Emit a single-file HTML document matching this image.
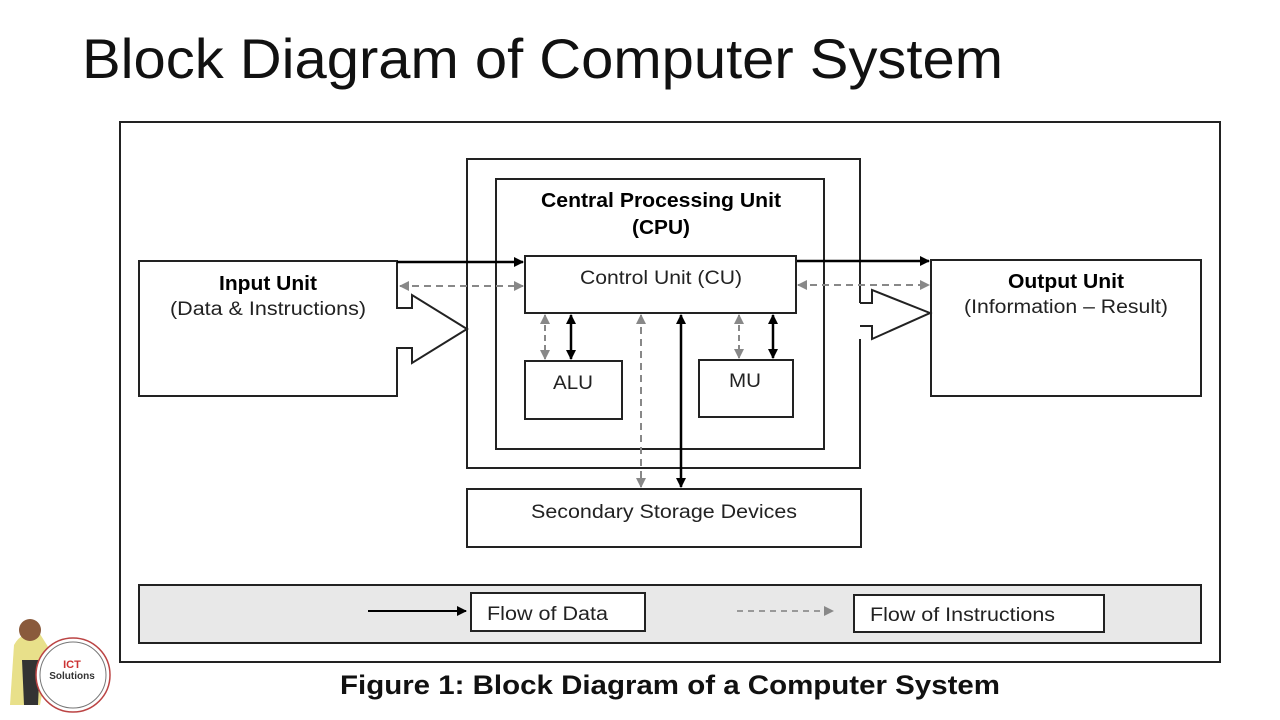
<!DOCTYPE html>
<html><head><meta charset="utf-8"><style>
html,body{margin:0;padding:0;background:#fff;}
svg{display:block;}
</style></head><body>
<svg width="1280" height="720" viewBox="0 0 1280 720" xmlns="http://www.w3.org/2000/svg" font-family="Liberation Sans, sans-serif">
<defs>
<marker id="ab" markerWidth="10" markerHeight="10" refX="9" refY="5" orient="auto-start-reverse" markerUnits="userSpaceOnUse"><path d="M0,0 L10,5 L0,10 z" fill="#000"/></marker>
<marker id="ag" markerWidth="10" markerHeight="10" refX="9" refY="5" orient="auto-start-reverse" markerUnits="userSpaceOnUse"><path d="M0,0 L10,5 L0,10 z" fill="#888"/></marker>
</defs>
<text x="82" y="78" font-size="56" fill="#111" textLength="921" lengthAdjust="spacingAndGlyphs">Block Diagram of Computer System</text>
<rect x="120" y="122" width="1100" height="540" fill="#fff" stroke="#222" stroke-width="2"/>
<path d="M860,303 L860,159 L467,159 L467,468 L860,468 L860,339" fill="none" stroke="#222" stroke-width="2"/>
<rect x="496" y="179" width="328" height="270" fill="none" stroke="#222" stroke-width="2"/>
<text x="541" y="207" font-size="20" font-weight="bold" textLength="240" lengthAdjust="spacingAndGlyphs">Central Processing Unit</text>
<text x="632" y="234" font-size="20" font-weight="bold" textLength="58" lengthAdjust="spacingAndGlyphs">(CPU)</text>
<rect x="525" y="256" width="271" height="57" fill="#fff" stroke="#222" stroke-width="2"/>
<text x="580" y="284" font-size="19" fill="#222" textLength="162" lengthAdjust="spacingAndGlyphs">Control Unit (CU)</text>
<rect x="525" y="361" width="97" height="58" fill="#fff" stroke="#222" stroke-width="2"/>
<text x="553" y="389" font-size="19" fill="#222" textLength="40" lengthAdjust="spacingAndGlyphs">ALU</text>
<rect x="699" y="360" width="94" height="57" fill="#fff" stroke="#222" stroke-width="2"/>
<text x="729" y="387" font-size="19" fill="#222" textLength="32" lengthAdjust="spacingAndGlyphs">MU</text>
<rect x="467" y="489" width="394" height="58" fill="#fff" stroke="#222" stroke-width="2"/>
<text x="531" y="518" font-size="19" fill="#222" textLength="266" lengthAdjust="spacingAndGlyphs">Secondary Storage Devices</text>
<path d="M139,261 L397,261 L397,308 L412,308 L412,295 L467,329 L412,363 L412,348 L397,348 L397,396 L139,396 Z" fill="#fff" stroke="#222" stroke-width="2"/>
<text x="219" y="290" font-size="20" font-weight="bold" textLength="98" lengthAdjust="spacingAndGlyphs">Input Unit</text>
<text x="170" y="315" font-size="19" fill="#222" textLength="196" lengthAdjust="spacingAndGlyphs">(Data &amp; Instructions)</text>
<path d="M860,303 L872,303 L872,290 L930,313 L872,339 L872,326 L860,326" fill="none" stroke="#222" stroke-width="2"/>
<rect x="931" y="260" width="270" height="136" fill="none" stroke="#222" stroke-width="2"/>
<text x="1008" y="288" font-size="20" font-weight="bold" textLength="116" lengthAdjust="spacingAndGlyphs">Output Unit</text>
<text x="964" y="313" font-size="19" fill="#222" textLength="204" lengthAdjust="spacingAndGlyphs">(Information – Result)</text>
<line x1="397" y1="262" x2="523" y2="262" stroke="#000" stroke-width="2.5" marker-end="url(#ab)"/>
<line x1="400" y1="286" x2="523" y2="286" stroke="#888" stroke-width="2" stroke-dasharray="7,5" marker-start="url(#ag)" marker-end="url(#ag)"/>
<line x1="797" y1="261" x2="929" y2="261" stroke="#000" stroke-width="2.5" marker-end="url(#ab)"/>
<line x1="798" y1="285" x2="929" y2="285" stroke="#888" stroke-width="2" stroke-dasharray="7,5" marker-start="url(#ag)" marker-end="url(#ag)"/>
<line x1="545" y1="315" x2="545" y2="359" stroke="#888" stroke-width="2" stroke-dasharray="6,4" marker-start="url(#ag)" marker-end="url(#ag)"/>
<line x1="571" y1="315" x2="571" y2="359" stroke="#000" stroke-width="2.5" marker-start="url(#ab)" marker-end="url(#ab)"/>
<line x1="641" y1="315" x2="641" y2="487" stroke="#888" stroke-width="2" stroke-dasharray="7,5" marker-start="url(#ag)" marker-end="url(#ag)"/>
<line x1="681" y1="315" x2="681" y2="487" stroke="#000" stroke-width="2.5" marker-start="url(#ab)" marker-end="url(#ab)"/>
<line x1="739" y1="315" x2="739" y2="358" stroke="#888" stroke-width="2" stroke-dasharray="6,4" marker-start="url(#ag)" marker-end="url(#ag)"/>
<line x1="773" y1="315" x2="773" y2="358" stroke="#000" stroke-width="2.5" marker-start="url(#ab)" marker-end="url(#ab)"/>
<rect x="139" y="585" width="1062" height="58" fill="#e8e8e8" stroke="#222" stroke-width="2"/>
<line x1="368" y1="611" x2="466" y2="611" stroke="#000" stroke-width="2" marker-end="url(#ab)"/>
<rect x="471" y="593" width="174" height="38" fill="#fff" stroke="#222" stroke-width="2"/>
<text x="487" y="620" font-size="19" fill="#222" textLength="121" lengthAdjust="spacingAndGlyphs">Flow of Data</text>
<line x1="737" y1="611" x2="833" y2="611" stroke="#999" stroke-width="2" stroke-dasharray="6,5" marker-end="url(#ag)"/>
<rect x="854" y="595" width="250" height="37" fill="#fff" stroke="#222" stroke-width="2"/>
<text x="870" y="621" font-size="19" fill="#222" textLength="185" lengthAdjust="spacingAndGlyphs">Flow of Instructions</text>
<text x="340" y="694" font-size="27" font-weight="bold" fill="#111" textLength="660" lengthAdjust="spacingAndGlyphs">Figure 1: Block Diagram of a Computer System</text>
<path d="M10,705 L14,645 Q22,630 40,634 L50,650 L40,705 Z" fill="#e8e08a"/>
<path d="M22,660 L40,660 L38,705 L24,705 Z" fill="#333"/>
<circle cx="30" cy="630" r="11" fill="#8a5a3c"/>
<circle cx="73" cy="675" r="37" fill="#fff" stroke="#b44" stroke-width="1.5"/>
<circle cx="73" cy="675" r="33" fill="none" stroke="#777" stroke-width="1"/>
<text x="72" y="668" font-size="11" font-weight="bold" fill="#c33" text-anchor="middle">ICT</text>
<text x="72" y="679" font-size="10" font-weight="bold" fill="#333" text-anchor="middle">Solutions</text>
</svg>
</body></html>
